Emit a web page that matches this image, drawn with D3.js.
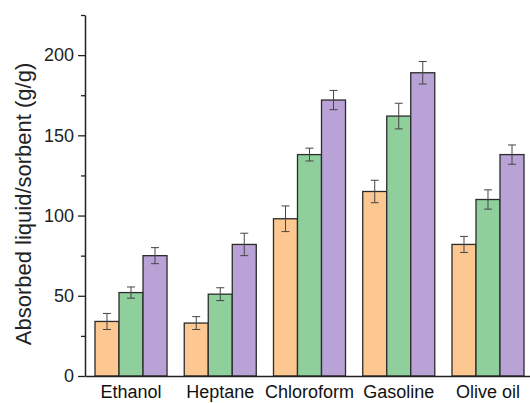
<!DOCTYPE html>
<html>
<head>
<meta charset="utf-8">
<script src="https://cdn.jsdelivr.net/npm/d3@7"></script>
<style>
  body { margin: 0; background: #fff; }
  text { font-family: "Liberation Sans", Arial, sans-serif; }
</style>
</head>
<body>
<div id="container"></div>
<script>
/* DATA */
const categories = ["Ethanol", "Heptane", "Chloroform", "Gasoline", "Olive oil"];
const series = ["s1", "s2", "s3"];
const values1 = [34, 33, 98, 115, 82];
const values2 = [52, 51, 138, 162, 110];
const values3 = [75, 82, 172, 189, 138];
const errors1 = [5, 4, 8, 7, 5];
const errors2 = [3.5, 4, 4, 8, 6];
const errors3 = [5, 7, 6, 7, 6];
const majorTicks = [0, 50, 100, 150, 200];
const minorTicks = [25, 75, 125, 175, 225];

const colors = d3.scaleOrdinal().domain(series).range(["#fdc791", "#8ecf9c", "#b8a2d6"]);

/* CONSTANTS */
const width = 530;
const height = 403;

const rows = categories.map((c, i) => ({
  category: c,
  bars: [
    { key: "s1", value: values1[i], err: errors1[i] },
    { key: "s2", value: values2[i], err: errors2[i] },
    { key: "s3", value: values3[i], err: errors3[i] }
  ]
}));

/* SCALES */
const xScale = d3.scaleBand()
  .domain(categories)
  .range([85, 534])
  .paddingInner(0.193)
  .paddingOuter(0.112);

const xInner = d3.scaleBand()
  .domain(series)
  .range([0, xScale.bandwidth()]);

const yScale = d3.scaleLinear()
  .domain([0, 225])
  .range([376, 15]);

/* SVG */
const svg = d3.select("#container")
  .append("svg")
  .attr("width", width)
  .attr("height", height);

const groups = svg.selectAll(".group")
  .data(rows)
  .join("g")
  .attr("class", "group")
  .attr("transform", d => `translate(${xScale(d.category)}, 0)`);

groups.selectAll("rect")
  .data(d => d.bars)
  .join("rect")
  .attr("x", d => xInner(d.key))
  .attr("y", d => yScale(d.value))
  .attr("width", xInner.bandwidth())
  .attr("height", d => yScale(0) - yScale(d.value))
  .attr("fill", d => colors(d.key))
  .attr("stroke", "#2b2b2b")
  .attr("stroke-width", 1.3);

// error bars
const eb = groups.selectAll(".err")
  .data(d => d.bars)
  .join("g")
  .attr("class", "err")
  .attr("stroke", "#444")
  .attr("stroke-width", 1);

eb.append("line")
  .attr("x1", d => xInner(d.key) + xInner.bandwidth() / 2)
  .attr("x2", d => xInner(d.key) + xInner.bandwidth() / 2)
  .attr("y1", d => yScale(d.value + d.err))
  .attr("y2", d => yScale(d.value - d.err));

eb.selectAll(".cap")
  .data(d => [d.value + d.err, d.value - d.err].map(v => ({ v, key: d.key })))
  .join("line")
  .attr("class", "cap")
  .attr("x1", d => xInner(d.key) + xInner.bandwidth() / 2 - 4)
  .attr("x2", d => xInner(d.key) + xInner.bandwidth() / 2 + 4)
  .attr("y1", d => yScale(d.v))
  .attr("y2", d => yScale(d.v));

/* AXES */
const yMinor = d3.axisLeft(yScale).tickValues(minorTicks).tickSize(4).tickFormat("");
svg.append("g")
  .attr("transform", "translate(85, 0)")
  .call(yMinor)
  .call(g => g.select(".domain").remove())
  .selectAll("line").attr("stroke", "#222").attr("stroke-width", 1.3);

const yAxis = d3.axisLeft(yScale).tickValues(majorTicks).tickSize(7).tickSizeOuter(0).tickPadding(4);
svg.append("g")
  .attr("transform", "translate(85, 0)")
  .call(yAxis)
  .call(g => g.select(".domain").attr("stroke", "#222").attr("stroke-width", 1.5))
  .call(g => g.selectAll("line").attr("stroke", "#222").attr("stroke-width", 1.3))
  .selectAll("text")
  .style("font-size", "18px")
  .attr("fill", "#222");

const xAxis = d3.axisBottom(xScale).tickSize(0).tickSizeOuter(0).tickPadding(9);
svg.append("g")
  .attr("transform", "translate(0, 376)")
  .call(xAxis)
  .call(g => g.select(".domain").attr("stroke", "#222").attr("stroke-width", 1.5))
  .selectAll("text")
  .style("font-size", "18px")
  .attr("fill", "#111");

// y label
svg.append("text")
  .attr("transform", "translate(31, 204) rotate(-90)")
  .attr("text-anchor", "middle")
  .style("font-size", "22px")
  .attr("fill", "#222")
  .text("Absorbed liquid/sorbent (g/g)");
</script>
</body>
</html>
